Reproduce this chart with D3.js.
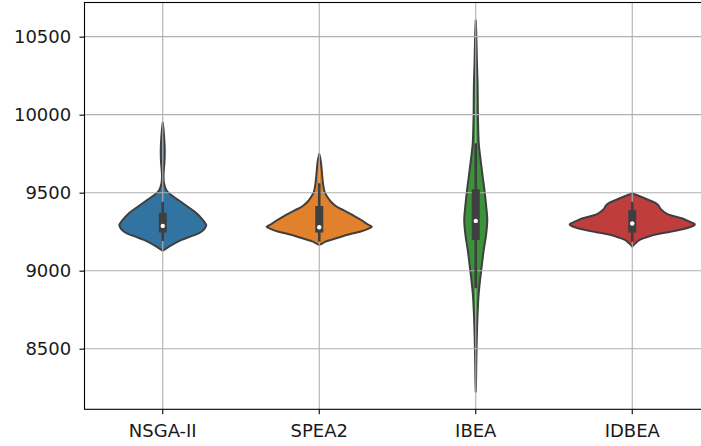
<!DOCTYPE html>
<html>
<head>
<meta charset="utf-8">
<script src="https://cdn.jsdelivr.net/npm/d3@7"></script>
<style>
  html, body { margin: 0; padding: 0; background: #fff; }
  svg { display: block; }
  text { font-family: "DejaVu Sans", sans-serif; }
</style>
</head>
<body>
<svg id="chart" width="701" height="446"></svg>
<script>
// ---- data ----
const categories = ["NSGA-II", "SPEA2", "IBEA", "IDBEA"];
const colors = ["#3274a1", "#e1812c", "#3a923a", "#c03d3e"];
const yTicks = [8500, 9000, 9500, 10000, 10500];

// density profiles: [value, relative half-width]
const profileNSGA = [[9128,0],[9154,0.10],[9175,0.19],[9197,0.30],[9220,0.45],[9240,0.58],[9265,0.66],[9286,0.69],[9293,0.695],[9300,0.685],[9330,0.63],[9368,0.54],[9410,0.40],[9453,0.25],[9490,0.12],[9517,0.056],[9560,0.02],[9603,0.012],[9650,0.018],[9700,0.028],[9774,0.032],[9840,0.025],[9900,0.014],[9949,0]];
const profileSPEA2 = [[9165,0],[9175,0.05],[9186,0.10],[9200,0.21],[9218,0.35],[9235,0.50],[9250,0.65],[9265,0.76],[9276,0.82],[9282,0.84],[9290,0.81],[9300,0.76],[9325,0.67],[9357,0.53],[9385,0.40],[9410,0.28],[9440,0.19],[9474,0.128],[9506,0.085],[9560,0.06],[9620,0.045],[9700,0.025],[9748,0]];
const profileIBEA = [[8224,0],[8300,0.005],[8383,0.008],[8500,0.013],[8600,0.019],[8730,0.03],[8857,0.048],[9004,0.088],[9133,0.128],[9230,0.165],[9325,0.184],[9420,0.165],[9517,0.139],[9590,0.115],[9667,0.091],[9740,0.068],[9817,0.048],[9900,0.04],[10000,0.034],[10120,0.032],[10220,0.028],[10350,0.018],[10500,0.01],[10603,0]];
const profileIDBEA = [[9154,0],[9175,0.05],[9197,0.117],[9212,0.21],[9229,0.34],[9245,0.55],[9261,0.75],[9280,0.93],[9292,0.99],[9297,1.0],[9303,0.98],[9316,0.91],[9336,0.79],[9352,0.64],[9368,0.54],[9385,0.48],[9400,0.445],[9416,0.425],[9432,0.38],[9448,0.29],[9464,0.197],[9480,0.1],[9496,0]];
const profiles = [profileNSGA, profileSPEA2, profileIBEA, profileIDBEA];

// box stats: [whiskerLow, q1, median, q3, whiskerHigh]
const boxNSGA = [9190, 9244, 9287, 9372, 9442];
const boxSPEA2 = [9185, 9244, 9278, 9415, 9560];
const boxIBEA = [8887, 9197, 9319, 9522, 9817];
const boxIDBEA = [9185, 9244, 9302, 9389, 9442];
const boxes = [boxNSGA, boxSPEA2, boxIBEA, boxIDBEA];

// ---- layout ----
const mLeft = 84.5, mRight = 710.5, mTop = 2.5, mBottom = 409.3;
const svg = d3.select("#chart");

const x = d3.scaleBand().domain(categories).range([mLeft, mRight]).padding(0);
const y = d3.scaleLinear().domain([8111.5, 10719]).range([mBottom, mTop]);
const halfMax = x.bandwidth() * 0.4;
const cx = c => x(c) + x.bandwidth() / 2;

svg.append("defs").append("clipPath").attr("id", "clip")
  .append("rect").attr("x", mLeft).attr("y", mTop)
  .attr("width", mRight - mLeft).attr("height", mBottom - mTop);

const plot = svg.append("g").attr("clip-path", "url(#clip)");
const edge = "#3f3f3f";

// violins
categories.forEach((c, i) => {
  const area = d3.area()
    .y(d => y(d[0]))
    .x0(d => cx(c) - d[1] * halfMax)
    .x1(d => cx(c) + d[1] * halfMax)
    .curve(d3.curveCatmullRom.alpha(0.5));
  plot.append("path")
    .datum(profiles[i])
    .attr("d", area)
    .attr("fill", colors[i])
    .attr("stroke", edge)
    .attr("stroke-width", 2)
    .attr("stroke-linejoin", "round");
});

// grid (above violin patches)
const grid = plot.append("g");
yTicks.forEach(t => {
  grid.append("line").attr("x1", mLeft).attr("x2", mRight)
    .attr("y1", y(t)).attr("y2", y(t))
    .attr("stroke", "#b0b0b0").attr("stroke-width", 1.1);
});
categories.forEach(c => {
  grid.append("line").attr("x1", cx(c)).attr("x2", cx(c))
    .attr("y1", mTop).attr("y2", mBottom)
    .attr("stroke", "#b0b0b0").attr("stroke-width", 1.1);
});

// inner boxes
categories.forEach((c, i) => {
  const b = boxes[i];
  plot.append("line").attr("x1", cx(c)).attr("x2", cx(c))
    .attr("y1", y(b[0])).attr("y2", y(b[4]))
    .attr("stroke", edge).attr("stroke-width", 2.6);
  plot.append("line").attr("x1", cx(c)).attr("x2", cx(c))
    .attr("y1", y(b[1])).attr("y2", y(b[3]))
    .attr("stroke", edge).attr("stroke-width", 8);
  plot.append("circle").attr("cx", cx(c)).attr("cy", y(b[2]))
    .attr("r", 2.2).attr("fill", "#fff");
});

// axes
const yAxis = svg.append("g").attr("transform", `translate(${mLeft},0)`)
  .call(d3.axisLeft(y).tickValues(yTicks).tickSize(5).tickPadding(8.3).tickFormat(d3.format("d")));
const xAxis = svg.append("g").attr("transform", `translate(0,${mBottom})`)
  .call(d3.axisBottom(x).tickSize(5).tickPadding(10));
[yAxis, xAxis].forEach(g => {
  g.select(".domain").remove();
  g.selectAll(".tick line").attr("stroke", "#000").attr("stroke-width", 1.1);
  g.selectAll("text").attr("font-size", 18).attr("fill", "#1a1a1a")
    .attr("font-family", "DejaVu Sans, sans-serif");
});

// spines
svg.append("rect").attr("x", mLeft).attr("y", mTop)
  .attr("width", mRight - mLeft).attr("height", mBottom - mTop)
  .attr("fill", "none").attr("stroke", "#000").attr("stroke-width", 1.1);
</script>
</body>
</html>
